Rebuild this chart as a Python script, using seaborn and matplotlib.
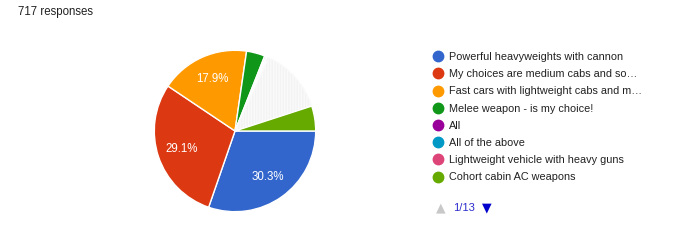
import matplotlib
matplotlib.use("Agg")
import matplotlib.pyplot as plt
from matplotlib.lines import Line2D
import seaborn as sns

# ---- data ----
categories = [
    "Powerful heavyweights with cannon",
    "My choices are medium cabs and so…",
    "Fast cars with lightweight cabs and m…",
    "Melee weapon - is my choice!",
    "All",
    "All of the above",
    "Lightweight vehicle with heavy guns",
    "Other answers (pages 2–13)",
    "Cohort cabin AC weapons",
]
values = [30.3, 29.1, 17.9, 3.7, 0.3, 0.3, 0.3, 13.1, 5.0]
colors = ["#3366cc", "#dc3912", "#ff9900", "#109618", "#990099",
          "#0099c6", "#dd4477", "#f3f3f3", "#66aa00"]
legend_items = [0, 1, 2, 3, 4, 5, 6, 8]
other_index = 7
title = "717 responses"
page_label = "1/13"

sns.set_theme(style="white")
plt.rcParams['font.family'] = ['Liberation Sans', 'DejaVu Sans']

W, H = 682, 240
fig = plt.figure(figsize=(W / 100, H / 100), dpi=100)
fig.patch.set_facecolor("white")

# pie axes: center (235,131) px, radius 81.5 px
cx, cy, r = 235, 131, 81.5
ax = fig.add_axes([(cx - r) / W, (H - cy - r) / H, 2 * r / W, 2 * r / H])

def fmt(p):
    return f"{p:.1f}%" if p >= 10 else ""

wedges, texts, autotexts = ax.pie(
    values, colors=colors, startangle=0, counterclock=False,
    autopct=fmt, pctdistance=0.70,
    wedgeprops=dict(edgecolor="white", linewidth=1.0),
    textprops=dict(color="white", fontsize=8.3),
)
# textured look for the many tiny "other" slices, no label
wedges[other_index].set_hatch("||||||")
wedges[other_index].set_edgecolor("#fafafa")
autotexts[other_index].set_visible(False)
ax.set_xlim(-1.01, 1.01)
ax.set_ylim(-1.01, 1.01)
ax.set_aspect("equal")
ax.axis("off")

# title
fig.text(18 / W, 1 - 12 / H, title, fontsize=8.3, color="#212121",
         ha="left", va="center")

# legend
handles = [Line2D([0], [0], marker="o", linestyle="none", markersize=7.5,
                  markerfacecolor=colors[i], markeredgecolor=colors[i])
           for i in legend_items]
labels = [categories[i] for i in legend_items]
fig.legend(handles, labels, loc="upper left",
           bbox_to_anchor=(434 / W, 1 - 52 / H), frameon=False,
           fontsize=7.8, handlelength=0.8, handletextpad=0.6,
           labelspacing=0.665, borderaxespad=0, borderpad=0,
           labelcolor="#212121")

# pagination
fig.text(441 / W, 1 - 208 / H, "▲", fontsize=9, color="#c8c8c8",
         ha="center", va="center", family="DejaVu Sans")
fig.text(453 / W, 1 - 208 / H, page_label, fontsize=8.0, color="#2b2bcc",
         ha="left", va="center")
fig.text(487 / W, 1 - 208 / H, "▼", fontsize=9, color="#0000cc",
         ha="center", va="center", family="DejaVu Sans")

fig.savefig("out.png", dpi=100)
